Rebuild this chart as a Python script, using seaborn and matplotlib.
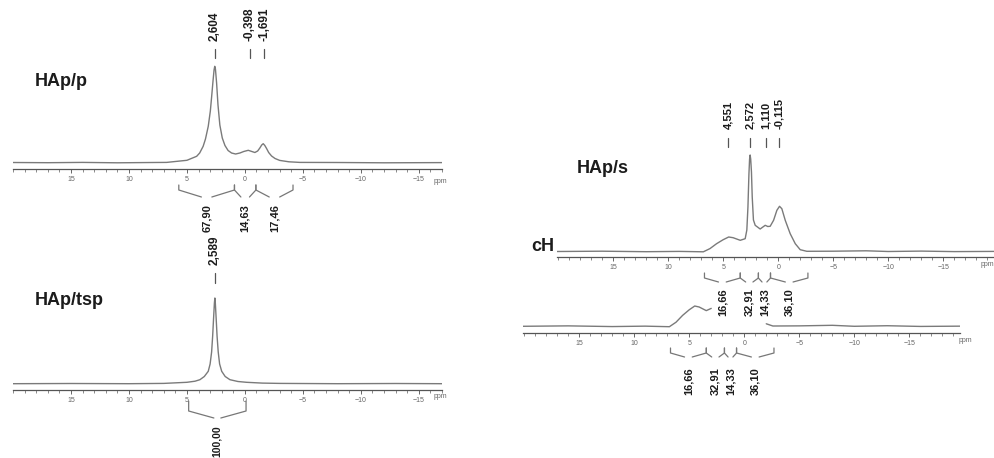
import matplotlib
matplotlib.use("Agg")
import numpy as np
import pandas as pd
import matplotlib.pyplot as plt
import matplotlib.transforms as mtransforms
from matplotlib.ticker import FixedLocator, MultipleLocator
import seaborn as sns

W, H = 995, 458

# --- spectra (ppm, intensity) ---
p_ppm = [20.0, 17.0, 14.0, 11.0, 8.0, 6.75, 5.0, 4.16, 3.9, 3.6, 3.4, 3.16, 2.98, 2.87,
         2.75, 2.66, 2.6, 2.54, 2.44, 2.32, 2.16, 1.95, 1.72, 1.45, 1.15, 0.8, 0.43,
         0.1, -0.29, -0.6, -0.86, -1.1, -1.29, -1.45, -1.58, -1.72, -1.87, -2.05,
         -2.3, -2.6, -3.0, -3.8, -4.74, -8.0, -12.0, -17.0]
p_int = [0.5, 0.3, 0.6, 0.2, 0.5, 0.6, 2.7, 6.7, 10, 16.7, 24, 36.7, 52, 66,
         82, 93, 96.7, 94, 80, 58, 38, 25, 17.5, 12.5, 10, 9, 10,
         11.5, 12.7, 11.5, 10.5, 12, 15, 18, 19.3, 17.5, 14.5, 10.5,
         7, 4.5, 2.6, 1.2, 0.6, 0.5, 0.2, 0.4]

tsp_ppm = [20.0, 15.0, 10.0, 7.0, 5.0, 4.3, 3.88, 3.5, 3.16, 3.0, 2.87, 2.78, 2.7,
           2.63, 2.59, 2.55, 2.48, 2.4, 2.3, 2.18, 2.0, 1.7, 1.29, 0.6, -0.14, -1.5,
           -3.0, -8.0, -13.0, -17.0]
tsp_int = [0.3, 0.5, 0.3, 0.6, 1.7, 2.8, 4.3, 7.5, 12.7, 20, 32, 48, 66,
           81, 86, 81, 66, 48, 32, 20, 12.7, 7.5, 4.3, 2.5, 1.7, 0.9,
           0.6, 0.3, 0.5, 0.3]

s_ppm = [20.1, 16.0, 12.0, 9.0, 6.8, 6.2, 5.6, 5.0, 4.5, 4.1, 3.45, 3.0, 2.85, 2.75,
         2.66, 2.6, 2.55, 2.5, 2.43, 2.36, 2.25, 2.09, 1.64, 1.18, 0.95, 0.73, 0.42,
         0.12, -0.12, -0.33, -0.64, -1.09, -1.55, -2.0, -2.6, -5.0, -8.0, -10.0,
         -13.0, -16.0, -19.7]
s_int = [0.5, 0.8, 0.3, 0.6, 0.2, 3.4, 8.3, 12.3, 15, 14.3, 11.7, 13.3, 22, 45,
         78, 93, 97, 93, 80, 55, 32, 26.7, 23, 26.7, 25.5, 25.7, 31.7,
         41.7, 45.7, 43.3, 31.7, 18.3, 8.3, 2.3, 0.7, 0.8, 1.2, 0.5,
         0.9, 0.4, 0.6]

# --- peak picks and integrals ---
p_peaks = [2.604, -0.398, -1.691]
p_edges = [5.7, 0.9, -0.95, -4.15]
p_integrals = [67.90, 14.63, 17.46]

tsp_peaks = [2.589]
tsp_edges = [4.85, -0.1]
tsp_integrals = [100.00]

s_peaks = [4.551, 2.572, 1.110, -0.115]
s_edges = [6.7, 3.45, 1.8, 0.7, -2.7]
s_integrals = [16.66, 32.91, 14.33, 36.10]
s_hidden = (2.95, -1.8)   # part of the copied strip covered by labels

sns.set_style("white")
plt.rcParams['font.family'] = ['Liberation Sans', 'DejaVu Sans']

fig = plt.figure(figsize=(W / 100, H / 100), dpi=100)

LINE = '#7a7a7a'
INK = '#1c1c1c'


def fy(ypx):
    return 1 - ypx / H


def make_axes(x0, x1, y0, y1, xlim, ylim):
    ax = fig.add_axes([x0 / W, 1 - y1 / H, (x1 - x0) / W, (y1 - y0) / H])
    ax.set_facecolor('none')
    ax.set_xlim(*xlim)
    ax.set_ylim(*ylim)
    sns.despine(ax=ax, left=True, top=True, right=True)
    ax.spines['bottom'].set_color('#555555')
    ax.spines['bottom'].set_linewidth(0.9)
    ax.set_yticks([])
    ax.xaxis.set_major_locator(FixedLocator([15, 10, 5, 0, -5, -10, -15]))
    ax.xaxis.set_minor_locator(MultipleLocator(1))
    ax.tick_params(axis='x', which='major', direction='out', length=3, width=0.7,
                   colors='#666666', labelsize=5, pad=2, bottom=True)
    ax.tick_params(axis='x', which='minor', direction='out', length=1.8, width=0.6,
                   colors='#777777', bottom=True)
    return ax


def spectrum(ax, ppm, inten):
    df = pd.DataFrame({'ppm': ppm, 'intensity': inten})
    sns.lineplot(data=df, x='ppm', y='intensity', ax=ax, color=LINE, lw=1.0,
                 estimator=None, sort=True)
    ax.set_xlabel('')
    ax.set_ylabel('')


def peak_marks(ax, peaks, y_tick0, y_tick1, y_lab, fs):
    tr = mtransforms.blended_transform_factory(ax.transData, fig.transFigure)
    for pk in peaks:
        ax.plot([pk, pk], [fy(y_tick0), fy(y_tick1)], transform=tr, color='#555555',
                lw=0.9, clip_on=False)
        ax.text(pk, fy(y_lab), f"{pk:.3f}".replace('.', ','), transform=tr,
                rotation=90, ha='center', va='bottom', fontsize=fs,
                fontweight='bold', color=INK)


def brackets(ax, edges, values, y_top, y_bend, y_mid, y_lab, gap, fs):
    tr = mtransforms.blended_transform_factory(ax.transData, fig.transFigure)
    for a, b, v in zip(edges[:-1], edges[1:], values):
        m = (a + b) / 2
        g = min(gap, (a - b) * 0.2)
        ax.plot([a, a, m + g], [fy(y_top), fy(y_bend), fy(y_mid)], transform=tr,
                color='#777777', lw=0.9, clip_on=False)
        ax.plot([m - g, b, b], [fy(y_mid), fy(y_bend), fy(y_top)], transform=tr,
                color='#777777', lw=0.9, clip_on=False)
        ax.text(m, fy(y_lab), f"{v:.2f}".replace('.', ','), transform=tr,
                rotation=90, ha='center', va='top', fontsize=fs,
                fontweight='bold', color=INK)


# HAp/p
ax_p = make_axes(13, 442, 60, 169, (20.0, -17.0), (-6, 103))
spectrum(ax_p, p_ppm, p_int)
peak_marks(ax_p, p_peaks, 58, 49, 41, 8.5)
brackets(ax_p, p_edges, p_integrals, 185, 190, 197, 204, 0.45, 8)
fig.text(440 / W, fy(182), 'ppm', fontsize=5, color='#666666', ha='center', va='center')
fig.text(35 / W, fy(86), 'HAp/p', fontsize=13, fontweight='bold', color=INK,
         va='baseline')

# HAp/tsp
ax_t = make_axes(13, 442, 290, 390, (20.0, -17.0), (-6, 94))
spectrum(ax_t, tsp_ppm, tsp_int)
peak_marks(ax_t, tsp_peaks, 283, 273, 265, 8.5)
brackets(ax_t, tsp_edges, tsp_integrals, 401, 411, 418, 425, 0.3, 7.5)
fig.text(440 / W, fy(397), 'ppm', fontsize=5, color='#666666', ha='center', va='center')
fig.text(35 / W, fy(305), 'HAp/tsp', fontsize=13, fontweight='bold', color=INK,
         va='baseline')

# HAp/s
ax_s = make_axes(557, 995, 150, 257, (20.1, -19.7), (-5, 102))
spectrum(ax_s, s_ppm, s_int)
peak_marks(ax_s, s_peaks, 147, 138, 129, 8)
brackets(ax_s, s_edges, s_integrals, 273, 278, 282, 288, 0.35, 8)
fig.text(994 / W, fy(264), 'ppm', fontsize=5, color='#666666', ha='right', va='center')
fig.text(577 / W, fy(173), 'HAp/s', fontsize=13, fontweight='bold', color=INK,
         va='baseline')
fig.text(531 / W, fy(251), 'cH', fontsize=13, fontweight='bold', color=INK,
         va='baseline')

# copied strip underneath, middle hidden behind the labels
ax_c = make_axes(523, 960, 300, 333, (20.1, -19.6), (-4.3, 19.3))
s_arr = np.array(s_ppm)
left_part = s_arr >= s_hidden[0]
right_part = s_arr <= s_hidden[1]
spectrum(ax_c, s_arr[left_part], np.array(s_int)[left_part])
spectrum(ax_c, s_arr[right_part], np.array(s_int)[right_part])
brackets(ax_c, s_edges, s_integrals, 348, 353, 357, 367, 0.35, 8)
fig.text(965 / W, fy(340), 'ppm', fontsize=5, color='#666666', ha='center', va='center')

fig.savefig('out.png', dpi=100, facecolor='white')
